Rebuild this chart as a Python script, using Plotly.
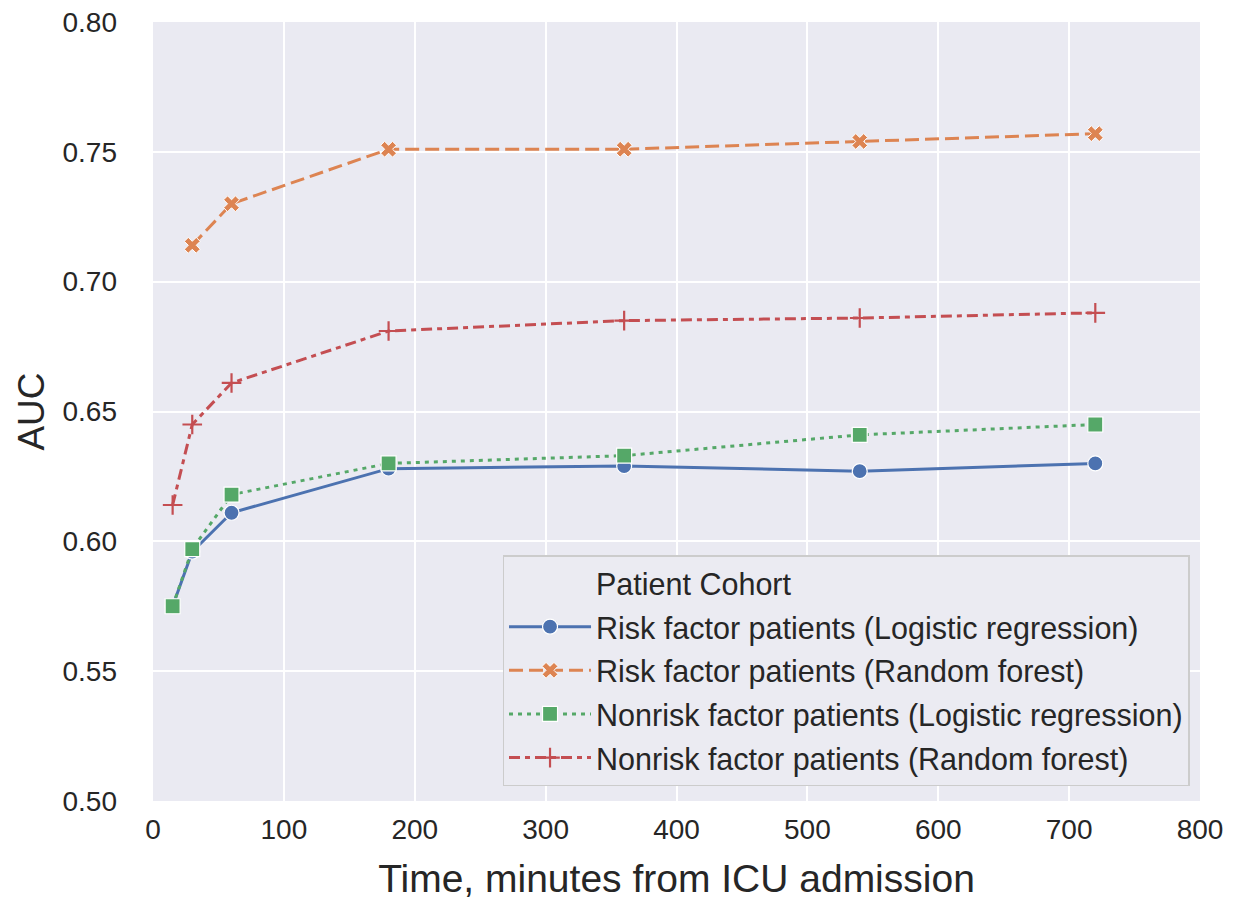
import plotly.graph_objects as go

# Data
minutes = [15, 30, 60, 180, 360, 540, 720]
minutes_rf_risk = [30, 60, 180, 360, 540, 720]

risk_lr = [0.575, 0.596, 0.611, 0.628, 0.629, 0.627, 0.630]
risk_rf = [0.714, 0.730, 0.751, 0.751, 0.754, 0.757]
nonrisk_lr = [0.575, 0.597, 0.618, 0.630, 0.633, 0.641, 0.645]
nonrisk_rf = [0.614, 0.645, 0.661, 0.681, 0.685, 0.686, 0.688]

x_ticks = [0, 100, 200, 300, 400, 500, 600, 700, 800]
y_ticks = [0.50, 0.55, 0.60, 0.65, 0.70, 0.75, 0.80]

names = [
    "Risk factor patients (Logistic regression)",
    "Risk factor patients (Random forest)",
    "Nonrisk factor patients (Logistic regression)",
    "Nonrisk factor patients (Random forest)",
]

BLUE = "#4C72B0"
ORANGE = "#DD8452"
GREEN = "#55A868"
RED = "#C44E52"
FONT = "Liberation Sans, Arial, sans-serif"
TXT = "#262626"

fig = go.Figure()

# legend title row (as an empty entry so that it aligns with item text)
fig.add_trace(go.Scatter(
    x=[None], y=[None], mode="lines", line=dict(width=0, color="rgba(0,0,0,0)"),
    name="Patient Cohort", legendgroup="title", hoverinfo="skip"))

fig.add_trace(go.Scatter(
    x=minutes, y=risk_lr, mode="lines+markers", name=names[0], legendgroup="g1",
    line=dict(color=BLUE, width=3),
    marker=dict(symbol="circle", size=15, color=BLUE, line=dict(color="white", width=1.2))))

fig.add_trace(go.Scatter(
    x=minutes_rf_risk, y=risk_rf, mode="lines+markers", name=names[1], legendgroup="g2",
    line=dict(color=ORANGE, width=3, dash="14px,6px"),
    marker=dict(symbol="x", size=14, color=ORANGE, line=dict(color="white", width=1))))

fig.add_trace(go.Scatter(
    x=minutes, y=nonrisk_lr, mode="lines+markers", name=names[2], legendgroup="g3",
    line=dict(color=GREEN, width=3, dash="4px,5px"),
    marker=dict(symbol="square", size=15, color=GREEN, line=dict(color="white", width=1.2))))

fig.add_trace(go.Scatter(
    x=minutes, y=nonrisk_rf, mode="lines+markers", name=names[3], legendgroup="g4",
    line=dict(color=RED, width=3, dash="11px,5px,5px,5px"),
    marker=dict(symbol="cross-thin", size=14, color=RED, line=dict(color=RED, width=2.2))))

fig.update_layout(
    width=1237, height=904,
    margin=dict(l=153, r=37, t=22, b=103, pad=0),
    paper_bgcolor="white",
    plot_bgcolor="#EAEAF2",
    font=dict(family=FONT, color=TXT, size=28),
    showlegend=True,
    legend=dict(
        x=0.99, y=0.019, xanchor="right", yanchor="bottom",
        bgcolor="#EBEBF2", bordercolor="#CCCCCC", borderwidth=1.5,
        font=dict(family=FONT, size=30.5, color=TXT),
        tracegroupgap=1, itemwidth=82,
    ),
)

fig.update_xaxes(
    range=[0, 800], tickvals=x_ticks, ticktext=[str(v) for v in x_ticks],
    showgrid=True, gridcolor="white", gridwidth=2, zeroline=False,
    showline=False, ticks="", ticklabelstandoff=9, automargin=False,
    tickfont=dict(size=28, family=FONT, color=TXT),
    title=dict(text="Time, minutes from ICU admission", font=dict(size=39, family=FONT, color=TXT), standoff=20),
)
fig.update_yaxes(
    range=[0.5, 0.8], tickvals=y_ticks, ticktext=[f"{v:.2f}" for v in y_ticks],
    showgrid=True, gridcolor="white", gridwidth=2, zeroline=False,
    showline=False, ticks="", ticklabelstandoff=35, automargin=False,
    tickfont=dict(size=28, family=FONT, color=TXT),
    title=dict(text="AUC", font=dict(size=37, family=FONT, color=TXT), standoff=6),
)

fig.write_html("out.html", config={"displayModeBar": False},
               post_script="document.body.style.margin='0';")
